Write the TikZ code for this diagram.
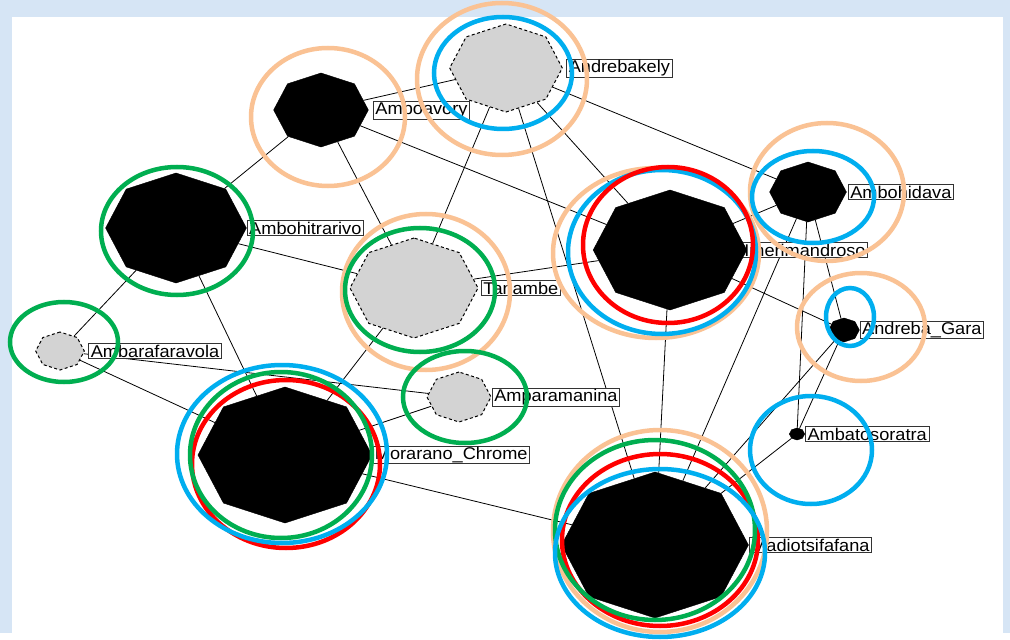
\documentclass[tikz,border=0pt]{standalone}
\usepackage{fontspec}
\setmainfont{Liberation Sans}
\usetikzlibrary{shapes.geometric}

\definecolor{ringorange}{RGB}{250,194,148}
\definecolor{ringblue}{RGB}{0,174,239}
\definecolor{ringred}{RGB}{255,0,0}
\definecolor{ringgreen}{RGB}{0,174,80}
\definecolor{towngray}{RGB}{211,211,211}
\definecolor{paper}{RGB}{214,229,245}

\pgfdeclarelayer{backdrop}
\pgfdeclarelayer{edges}
\pgfdeclarelayer{labels}
\pgfsetlayers{backdrop,edges,labels,main}

\tikzset{
  town/.style={regular polygon, regular polygon sides=8, shape border rotate=22.5,
    inner sep=0pt, xscale=1.28},
  blacktown/.style={town, fill=black, draw=black, minimum size=#1},
  graytown/.style={town, fill=towngray, draw=black, line width=1pt,
    dash pattern=on 3pt off 2.5pt, minimum size=#1},
  lbl/.style={draw=black!80, fill=white, anchor=west, inner xsep=2pt, inner ysep=1pt,
    line width=0.8pt, xscale=1.07, font=\fontsize{17}{17}\selectfont},
  road/.style={line width=0.8pt},
  ring/.style={draw=#1, line width=4.5pt},
}

\begin{document}
\begin{tikzpicture}[x=1pt,y=-1pt]
    % page
    \begin{pgfonlayer}{backdrop}
      \fill[paper] (0,0) rectangle (1010,633);
      \fill[white] (12,17) rectangle (1003,633);
    \end{pgfonlayer}

    % towns
    \node[blacktown=74]  (amboavory)      at (321,110) {};
    \node[graytown=88]   (andrebakely)    at (506,68)  {};
    \node[blacktown=60]  (ambohidava)     at (808,192) {};
    \node[blacktown=120] (imerimandroso)  at (670,250) {};
    \node[blacktown=110] (ambohitrarivo)  at (176,228) {};
    \node[graytown=100]  (tanambe)        at (414,288) {};
    \node[graytown=38]   (ambarafaravola) at (60,351)  {};
    \node[graytown=50]   (amparamanina)   at (459,397) {};
    \node[blacktown=136] (morarano)       at (285,455) {};
    \node[blacktown=24]  (andrebagara)    at (844,330) {};
    \node[blacktown=12]  (ambatosoratra)  at (797,434) {};
    \node[blacktown=146] (madiotsifafana) at (655,545) {};

    % names
    \begin{pgfonlayer}{labels}
      \node[lbl,xshift=4pt]  (amboavory-l)      at (amboavory.east)      {Amboavory};
      \node[lbl,xshift=3pt]  (andrebakely-l)    at (andrebakely.east)    {Andrebakely};
      \node[lbl,xshift=1pt]  (ambohidava-l)     at (ambohidava.east)     {Ambohidava};
      \node[lbl,xshift=-5pt] (imerimandroso-l)  at (imerimandroso.east)  {Imerimandroso};
      \node[lbl]             (ambohitrarivo-l)  at (ambohitrarivo.east)  {Ambohitrarivo};
      \node[lbl,xshift=2pt]  (tanambe-l)        at (tanambe.east)        {Tanambe};
      \node[lbl,xshift=3pt]  (ambarafaravola-l) at (ambarafaravola.east) {Ambarafaravola};
      \node[lbl]             (amparamanina-l)   at (amparamanina.east)   {Amparamanina};
      \node[lbl,xshift=0pt]  (morarano-l)       at (morarano.east)       {Morarano\_Chrome};
      \node[lbl,xshift=0pt]  (andrebagara-l)    at (andrebagara.east)    {Andreba\_Gara};
      \node[lbl]             (ambatosoratra-l)  at (ambatosoratra.east)  {Ambatosoratra};
      \node[lbl,xshift=0pt]  (madiotsifafana-l) at (madiotsifafana.east) {Madiotsifafana};
    \end{pgfonlayer}

    % roads
    \begin{pgfonlayer}{edges}
      \draw[road] (amboavory) -- (andrebakely);
      \draw[road] (amboavory) -- (ambohitrarivo);
      \draw[road] (amboavory) -- (tanambe);
      \draw[road] (amboavory) -- (imerimandroso);
      \draw[road] (andrebakely) -- (tanambe);
      \draw[road] (andrebakely) -- (imerimandroso);
      \draw[road] (andrebakely) -- (madiotsifafana);
      \draw[road] (andrebakely) -- (ambohidava);
      \draw[road] (ambohidava) -- (imerimandroso);
      \draw[road] (ambohidava) -- (andrebagara);
      \draw[road] (ambohidava) -- (ambatosoratra);
      \draw[road] (ambohidava) -- (madiotsifafana);
      \draw[road] (imerimandroso) -- (tanambe);
      \draw[road] (imerimandroso) -- (madiotsifafana);
      \draw[road] (imerimandroso) -- (andrebagara);
      \draw[road] (ambohitrarivo) -- (tanambe);
      \draw[road] (ambohitrarivo) -- (ambarafaravola);
      \draw[road] (ambohitrarivo) -- (morarano);
      \draw[road] (tanambe) -- (morarano);
      \draw[road] (ambarafaravola) -- (morarano);
      \draw[road] (ambarafaravola) -- (amparamanina);
      \draw[road] (morarano) -- (amparamanina);
      \draw[road] (morarano) -- (madiotsifafana);
      \draw[road] (andrebagara) -- (ambatosoratra);
      \draw[road] (andrebagara) -- (madiotsifafana);
      \draw[road] (ambatosoratra) -- (madiotsifafana);
    \end{pgfonlayer}

    % rings
    \draw[ring=ringorange] (328,117) ellipse [x radius=77pt, y radius=69pt];
    \draw[ring=ringorange] (502,79)  ellipse [x radius=85pt, y radius=76pt];
    \draw[ring=ringblue]   (503,73)  ellipse [x radius=69pt, y radius=56pt];
    \draw[ring=ringorange] (827,192) ellipse [x radius=77pt, y radius=69pt];
    \draw[ring=ringblue]   (813,197) ellipse [x radius=61pt, y radius=46pt];
    \draw[ring=ringorange] (656,253) ellipse [x radius=103pt, y radius=85pt];
    \draw[ring=ringblue]   (662,252) ellipse [x radius=94pt, y radius=82pt];
    \draw[ring=ringred]    (668,245) ellipse [x radius=85pt, y radius=78pt];
    \draw[ring=ringgreen]  (177,231) ellipse [x radius=76pt, y radius=64pt];
    \draw[ring=ringorange] (426,292) ellipse [x radius=84pt, y radius=78pt];
    \draw[ring=ringgreen]  (420,290) ellipse [x radius=75pt, y radius=62pt];
    \draw[ring=ringgreen]  (64,342)  ellipse [x radius=54pt, y radius=40pt];
    \draw[ring=ringgreen]  (465,397) ellipse [x radius=62pt, y radius=46pt];
    \draw[ring=ringred]    (286,464) ellipse [x radius=94pt, y radius=84pt];
    \draw[ring=ringgreen]  (281,455) ellipse [x radius=91pt, y radius=83pt];
    \draw[ring=ringblue]   (282,454) ellipse [x radius=105pt, y radius=89pt];
    \draw[ring=ringorange] (861,327) ellipse [x radius=64pt, y radius=54pt];
    \draw[ring=ringblue]   (850,317) ellipse [x radius=24pt, y radius=29pt];
    \draw[ring=ringblue]   (811,450) ellipse [x radius=61pt, y radius=54pt];
    \draw[ring=ringorange] (660,531) ellipse [x radius=107pt, y radius=101pt];
    \draw[ring=ringred]    (660,540) ellipse [x radius=98pt, y radius=86pt];
    \draw[ring=ringgreen]  (655,530) ellipse [x radius=100pt, y radius=90pt];
    \draw[ring=ringblue]   (660,553) ellipse [x radius=105pt, y radius=84pt];
\end{tikzpicture}
\end{document}
